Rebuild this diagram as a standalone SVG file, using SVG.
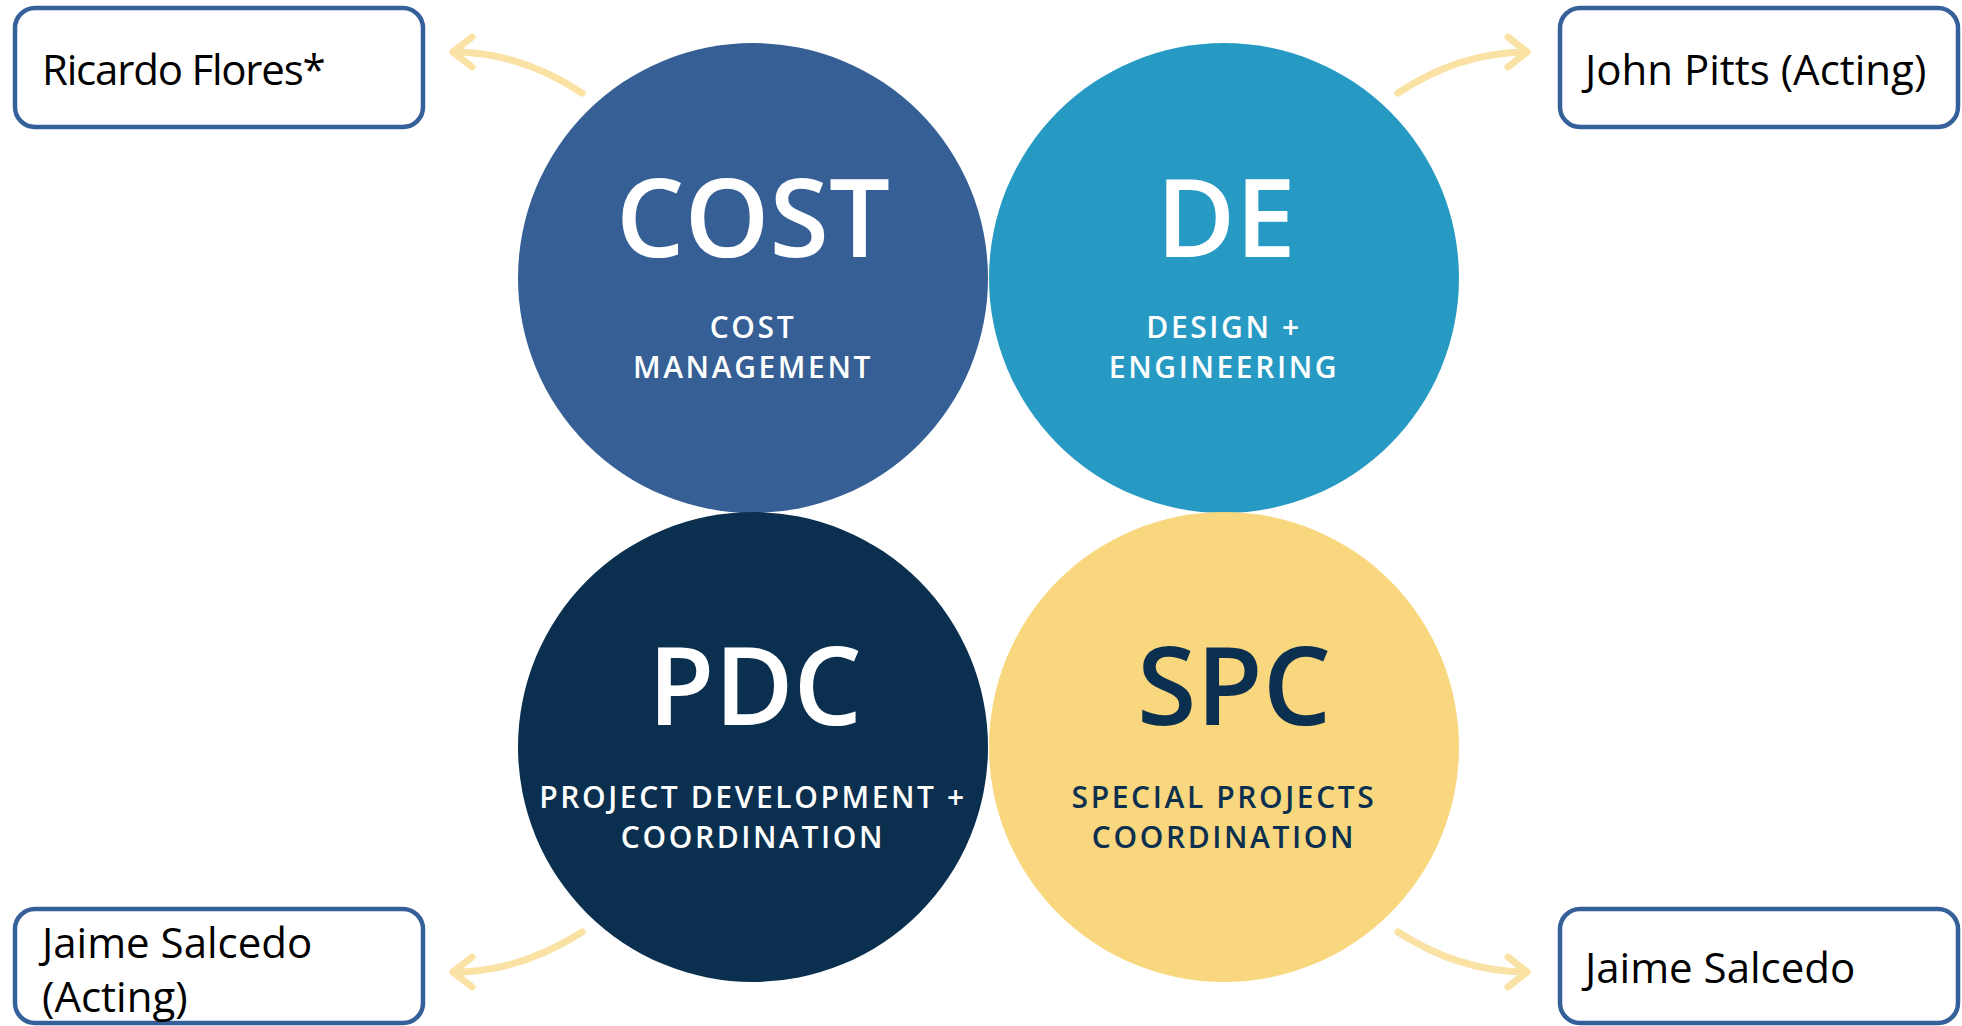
<svg xmlns="http://www.w3.org/2000/svg" width="1962" height="1026" viewBox="0 0 1962 1026">
  <style>
    .box { fill: #ffffff; stroke: #36609a; stroke-width: 4.5; }
    .name { font-family: "Open Sans", "Noto Sans", sans-serif; font-size: 42px; fill: #000000; }
    .title { font-family: "Open Sans", "Noto Sans", sans-serif; font-weight: 600; font-size: 108px; text-anchor: middle; }
    .sub { font-family: "Open Sans", "Noto Sans", sans-serif; font-weight: 600; font-size: 30px; letter-spacing: 2.6px; text-anchor: middle; }
    .light { fill: #ffffff; }
    .dark { fill: #0b2f4e; }
    .conn { fill: none; stroke: #f9e2a4; stroke-width: 7; stroke-linecap: round; }
  </style>
  <defs>
    <marker id="chev" markerUnits="userSpaceOnUse" viewBox="-26 -20 30 40" markerWidth="30" markerHeight="40" refX="0" refY="0" orient="auto">
      <path d="M-19,-15 L0,0 L-19,15" fill="none" stroke="#f9e2a4" stroke-width="7" stroke-linecap="round" stroke-linejoin="round"/>
    </marker>
  </defs>
  <rect width="1962" height="1026" fill="#ffffff"/>

  <g id="connectors">
    <path class="conn" d="M582,93 Q520,52 453,52" marker-end="url(#chev)"/>
    <path class="conn" d="M1398,93 Q1460,52 1527,52" marker-end="url(#chev)"/>
    <path class="conn" d="M582,932 Q520,972 453,972" marker-end="url(#chev)"/>
    <path class="conn" d="M1398,932 Q1460,972 1527,972" marker-end="url(#chev)"/>
  </g>

  <g id="node-cost">
    <circle cx="753" cy="278" r="235" fill="#355f95"/>
    <text class="title light" x="753" y="257">COST</text>
    <text class="sub light" x="753" y="338">COST</text>
    <text class="sub light" x="753" y="378">MANAGEMENT</text>
  </g>

  <g id="node-de">
    <circle cx="1224" cy="278" r="235" fill="#279ac4"/>
    <text class="title light" x="1226" y="257">DE</text>
    <text class="sub light" x="1224" y="338">DESIGN +</text>
    <text class="sub light" x="1224" y="378">ENGINEERING</text>
  </g>

  <g id="node-pdc">
    <circle cx="753" cy="747" r="235" fill="#0a2f4f"/>
    <text class="title light" x="755" y="725">PDC</text>
    <text class="sub light" x="753" y="808">PROJECT DEVELOPMENT +</text>
    <text class="sub light" x="753" y="848">COORDINATION</text>
  </g>

  <g id="node-spc">
    <circle cx="1224" cy="747" r="235" fill="#f8d77e"/>
    <text class="title dark" x="1234" y="725">SPC</text>
    <text class="sub dark" x="1224" y="808">SPECIAL PROJECTS</text>
    <text class="sub dark" x="1224" y="848">COORDINATION</text>
  </g>

  <g id="box-ricardo">
    <rect class="box" x="15" y="8" width="408" height="119" rx="20"/>
    <text class="name" x="42" y="85" letter-spacing="-1.2">Ricardo Flores*</text>
  </g>

  <g id="box-john">
    <rect class="box" x="1560" y="8" width="398" height="119" rx="20"/>
    <text class="name" x="1585" y="85">John Pitts (Acting)</text>
  </g>

  <g id="box-jaime-acting">
    <rect class="box" x="15" y="909" width="408" height="114" rx="20"/>
    <text class="name" x="42" y="958">Jaime Salcedo</text>
    <text class="name" x="42" y="1012">(Acting)</text>
  </g>

  <g id="box-jaime">
    <rect class="box" x="1560" y="909" width="398" height="114" rx="20"/>
    <text class="name" x="1585" y="983">Jaime Salcedo</text>
  </g>
</svg>
